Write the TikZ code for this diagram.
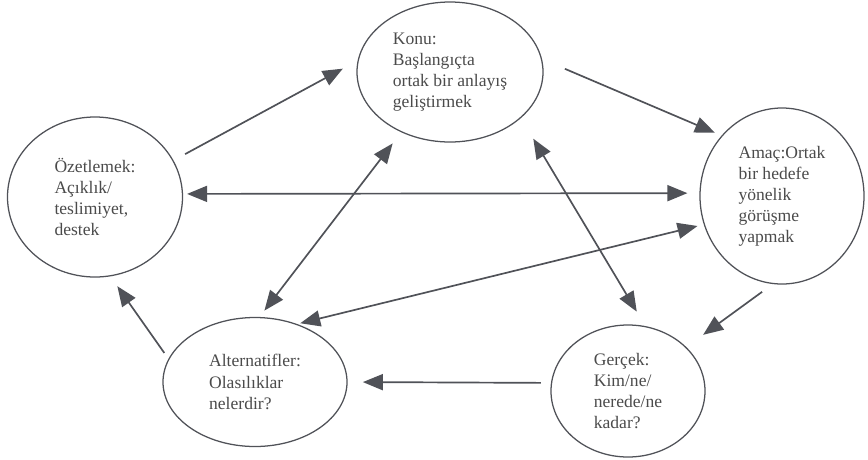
\documentclass[tikz,border=0pt]{standalone}
\usepackage{fontspec}
\setmainfont{Liberation Serif}
\usepackage{tikz}
\usetikzlibrary{arrows.meta,shapes.geometric}
\usepackage{xcolor}
\definecolor{inkcol}{RGB}{80,82,88}
\definecolor{txtcol}{RGB}{75,75,75}

\begin{document}
\begin{tikzpicture}[
  circ/.style={ellipse, draw=inkcol, line width=0.9pt, inner sep=0pt,
               text=txtcol, align=left, font=\fontsize{12.5}{15}\selectfont},
  arr/.style={-{Triangle[length=5mm,width=4mm]}, line width=1.2pt, inkcol},
  darr/.style={{Triangle[length=5mm,width=4mm]}-{Triangle[length=5mm,width=4mm]}, line width=1.2pt, inkcol},
]
  \useasboundingbox (0,0) rectangle (21.7,-11.475);

  % Nodes
  \node[circ, minimum width=4.375cm, minimum height=4cm] (oz) at (2.375,-4.925)
    {Özetlemek:\\Açıklık/\\teslimiyet,\\destek};
  \node[circ, minimum width=4.65cm, minimum height=3.5cm] (konu) at (11.25,-1.8)
    {Konu:\\Başlangıçta\\ortak bir anlayış\\geliştirmek};
  \node[circ, minimum width=4.1cm, minimum height=4.4cm] (amac) at (19.55,-4.9)
    {Amaç:Ortak\\bir hedefe\\yönelik\\görüşme\\yapmak};
  \node[circ, minimum width=4.6cm, minimum height=3.225cm] (alt) at (6.375,-9.55)
    {Alternatifler:\\Olasılıklar\\nelerdir?};
  \node[circ, minimum width=3.85cm, minimum height=3.3cm] (gercek) at (15.7,-9.775)
    {Gerçek:\\Kim/ne/\\nerede/ne\\kadar?};

  % Outer cycle
  \draw[arr, shorten <=3.3mm, shorten >=4.2mm] (oz.25) -- (konu.173);
  \draw[arr, shorten <=6.2mm, shorten >=1.8mm] (konu.8) -- (amac.135);
  \draw[arr, shorten <=3.3mm, shorten >=5.2mm] (amac.-96) -- (gercek.37);
  \draw[arr, shorten <=2.5mm, shorten >=3.8mm] (gercek.174) -- (alt.0);
  \draw[arr, shorten <=1.8mm, shorten >=3mm] (alt.165) -- (oz.-79);

  % Cross links
  \draw[darr, shorten <=1mm, shorten >=3mm] (oz.2) -- (amac.178);
  \draw[darr, shorten <=3.5mm, shorten >=2mm] (konu.-129) -- (alt.86);
  \draw[darr, shorten <=6mm, shorten >=4.2mm] (konu.-33) -- (gercek.75);
  \draw[darr, shorten <=1.6mm, shorten >=0.8mm] (amac.-160) -- (alt.54);

\end{tikzpicture}
\end{document}
